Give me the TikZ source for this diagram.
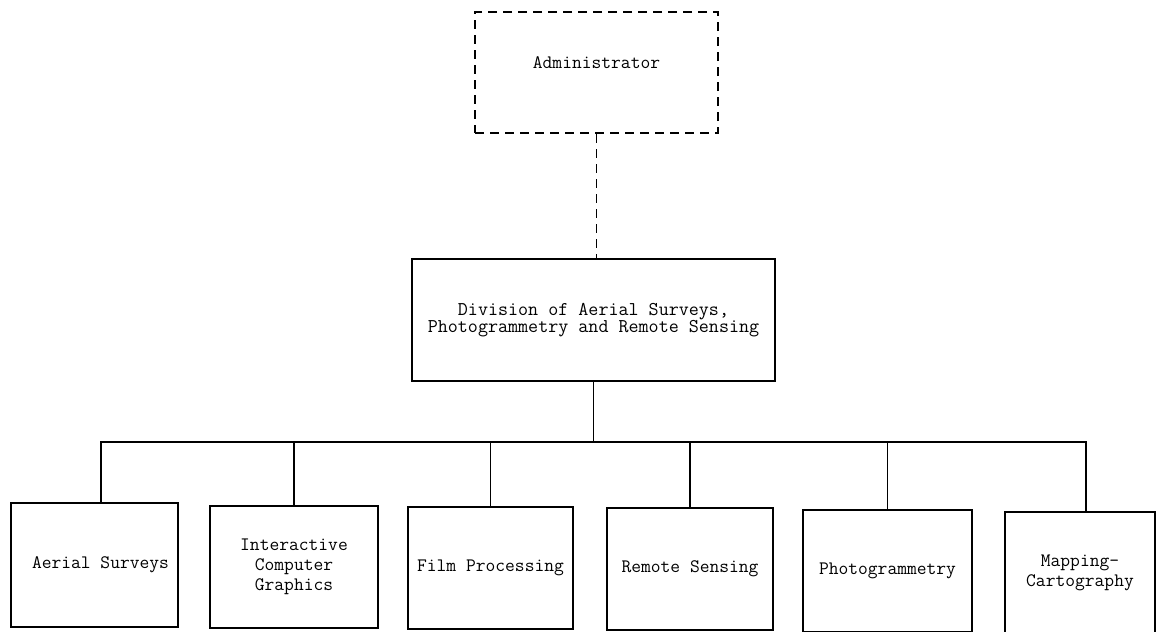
\documentclass[tikz,border=0pt]{standalone}
\usepackage{fontspec}
\begin{document}
\begin{tikzpicture}[x=1pt,y=-1pt,
  box/.style={draw,line width=2.4pt,rectangle,inner sep=0pt,align=center,
    font=\ttfamily\fontsize{19}{20}\selectfont},
  conn/.style={line width=1.6pt},
  dconn/.style={line width=1.6pt,dash pattern=on 9pt off 6pt}]
\useasboundingbox (0,0) rectangle (1157,632);
\node[box,dash pattern=on 9pt off 6pt,minimum width=243pt,minimum height=121pt,text depth=20pt] (adm) at (596.5,72.5) {Administrator};
\node[box,minimum width=363pt,minimum height=122pt,font=\ttfamily\fontsize{19.5}{15.5}\selectfont] (div) at (593.5,320) {Division of Aerial Surveys,\\Photogrammetry and Remote Sensing};
\node[box,minimum width=167pt,minimum height=124pt] (c1) at (94.5,565) {\hspace*{12pt}Aerial Surveys};
\node[box,minimum width=168pt,minimum height=122pt] (c2) at (294,567) {Interactive\\Computer\\Graphics};
\node[box,minimum width=165pt,minimum height=122pt] (c3) at (490.5,568) {Film Processing};
\node[box,minimum width=166pt,minimum height=122pt] (c4) at (690,569) {Remote Sensing};
\node[box,minimum width=169pt,minimum height=122pt] (c5) at (887.5,571) {Photogrammetry};
\node[box,minimum width=150pt,minimum height=122pt] (c6) at (1080,573) {Mapping-\\Cartography};
\coordinate (bar) at (593.5,442);
\draw[dconn] (adm.south) -- (adm.south |- div.north);
\draw[conn] (div.south) -- (bar);
\draw[conn] ([xshift=6.5pt]c1.north) |- (bar);
\draw[conn] (c2.north) |- (bar);
\draw[conn] (c3.north) |- (bar);
\draw[conn] (c4.north) |- (bar);
\draw[conn] (c5.north) |- (bar);
\draw[conn] ([xshift=6pt]c6.north) |- (bar);
\end{tikzpicture}
\end{document}
